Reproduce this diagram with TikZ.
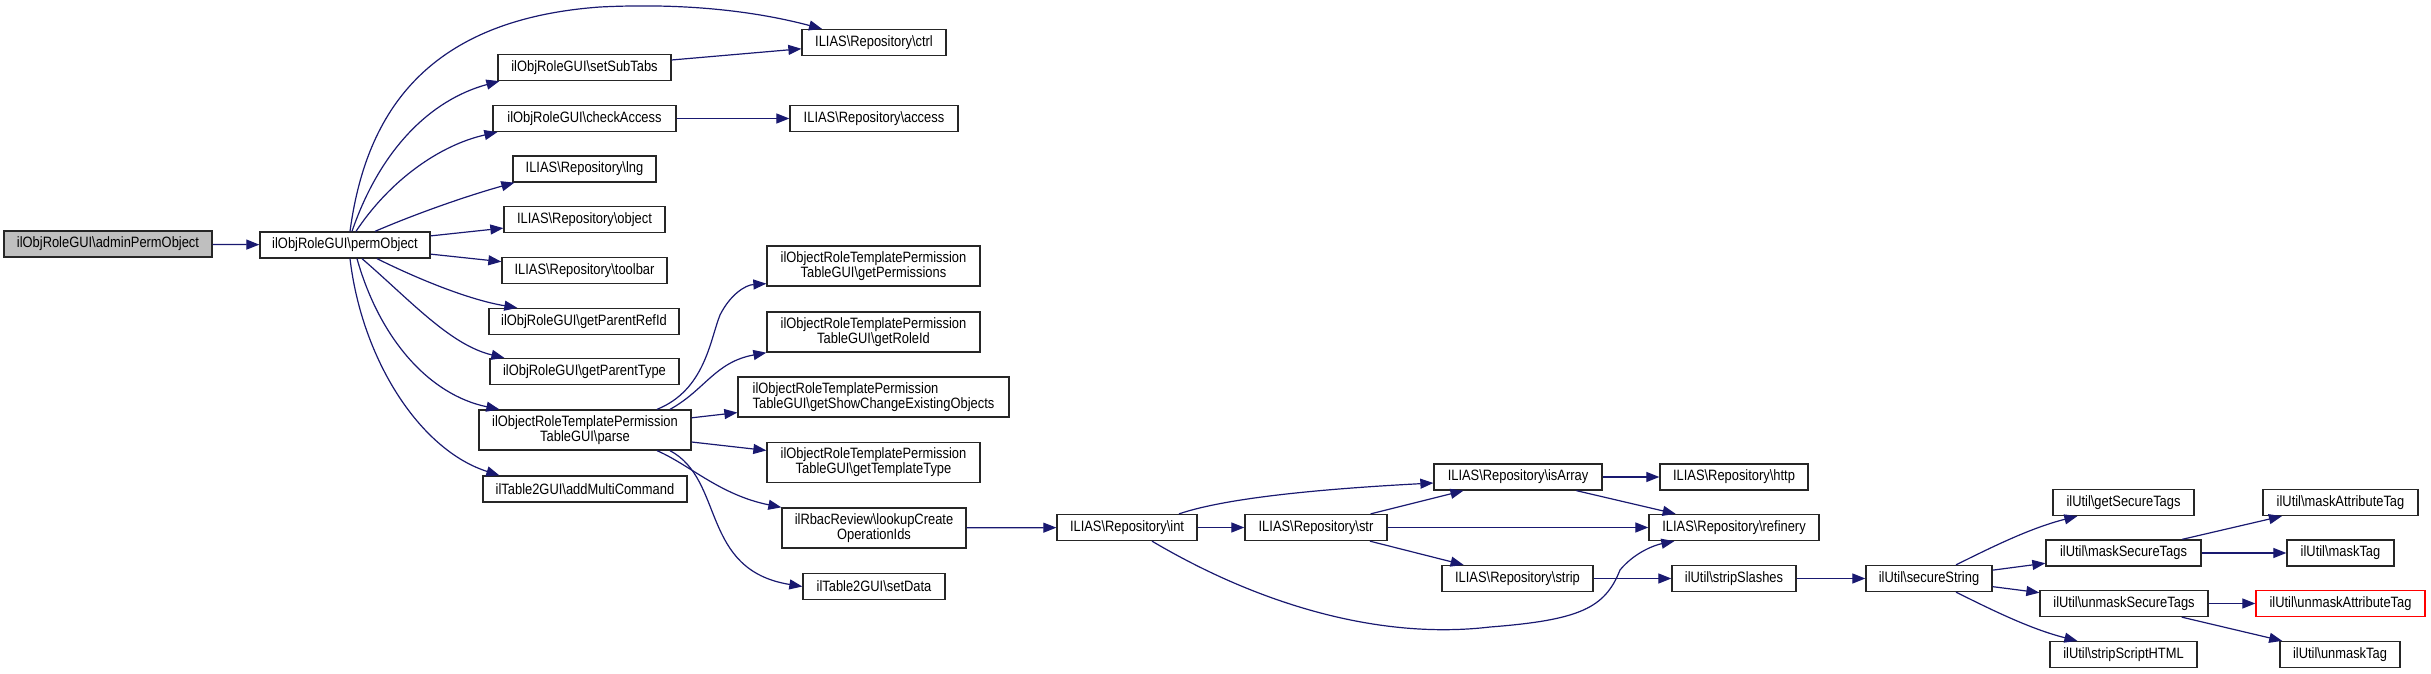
\documentclass[tikz,border=0pt]{standalone}
\usepackage{fontspec}
\setmainfont{Liberation Sans}[FakeStretch=0.86]
\usetikzlibrary{arrows.meta}
\definecolor{edgeblue}{HTML}{191970}
\definecolor{boxgrey}{HTML}{BFBFBF}
\newcommand{\bsl}{\textbackslash}

\begin{document}
\begin{tikzpicture}[x=1pt,y=-1pt,
    fnbox/.style={draw=black!85,fill=white,line width=1.3pt,minimum height=26pt,inner sep=0pt,font=\fontsize{15}{15}\selectfont},
    fnboxtwo/.style={fnbox,minimum height=40pt,align=center},
    call/.style={draw=edgeblue,line width=1.2pt,-{Triangle[length=13pt,width=10pt]}}]
    \useasboundingbox (0,0) rectangle (2431,673);

    % first two columns
    \node[fnbox,fill=boxgrey,minimum width=208pt] (adm) at (108,244) {ilObjRoleGUI\bsl adminPermObject};
    \node[fnbox,minimum width=170pt] (perm) at (345,245) {ilObjRoleGUI\bsl permObject};

    \node[fnbox,minimum width=173pt] (setSubTabs) at (584.5,67.5) {ilObjRoleGUI\bsl setSubTabs};
    \node[fnbox,minimum width=183pt] (checkAccess) at (584.5,118.5) {ilObjRoleGUI\bsl checkAccess};
    \node[fnbox,minimum width=143pt] (lng) at (584.5,169) {ILIAS\bsl Repository\bsl lng};
    \node[fnbox,minimum width=161pt] (object) at (584.5,219.5) {ILIAS\bsl Repository\bsl object};
    \node[fnbox,minimum width=165pt] (toolbar) at (584.5,270.5) {ILIAS\bsl Repository\bsl toolbar};
    \node[fnbox,minimum width=190pt] (parentRef) at (584,321.5) {ilObjRoleGUI\bsl getParentRefId};
    \node[fnbox,minimum width=189pt] (parentType) at (584.5,371.5) {ilObjRoleGUI\bsl getParentType};
    \node[fnboxtwo,minimum width=212pt] (parse) at (585,430) {ilObjectRoleTemplatePermission\\TableGUI\bsl parse};
    \node[fnbox,minimum width=204pt] (multiCmd) at (585,489) {ilTable2GUI\bsl addMultiCommand};

    % third column
    \node[fnbox,minimum width=144pt] (ctrl) at (874,42.5) {ILIAS\bsl Repository\bsl ctrl};
    \node[fnbox,minimum width=168pt] (access) at (874,118.5) {ILIAS\bsl Repository\bsl access};
    \node[fnboxtwo,minimum width=213pt] (getPerms) at (873.5,266) {ilObjectRoleTemplatePermission\\TableGUI\bsl getPermissions};
    \node[fnboxtwo,minimum width=213pt] (getRole) at (873.5,332) {ilObjectRoleTemplatePermission\\TableGUI\bsl getRoleId};
    \node[fnboxtwo,align=left,minimum width=271pt] (showChange) at (873.5,397) {ilObjectRoleTemplatePermission\\TableGUI\bsl getShowChangeExistingObjects};
    \node[fnboxtwo,minimum width=213pt] (tplType) at (873.5,462.5) {ilObjectRoleTemplatePermission\\TableGUI\bsl getTemplateType};
    \node[fnboxtwo,minimum width=184pt] (lookup) at (874,528) {ilRbacReview\bsl lookupCreate\\OperationIds};
    \node[fnbox,minimum width=142pt] (setData) at (874,586.5) {ilTable2GUI\bsl setData};

    % repository helpers
    \node[fnbox,minimum width=140pt] (int) at (1127,527.5) {ILIAS\bsl Repository\bsl int};
    \node[fnbox,minimum width=142pt] (str) at (1316,527.5) {ILIAS\bsl Repository\bsl str};
    \node[fnbox,minimum width=168pt] (isArray) at (1518,477) {ILIAS\bsl Repository\bsl isArray};
    \node[fnbox,minimum width=151pt] (strip) at (1517.5,578.5) {ILIAS\bsl Repository\bsl strip};
    \node[fnbox,minimum width=148pt] (http) at (1734,477) {ILIAS\bsl Repository\bsl http};
    \node[fnbox,minimum width=170pt] (refinery) at (1734,527.5) {ILIAS\bsl Repository\bsl refinery};
    \node[fnbox,minimum width=124pt] (stripSlashes) at (1734,578.5) {ilUtil\bsl stripSlashes};

    % ilUtil
    \node[fnbox,minimum width=126pt] (secure) at (1929,578.5) {ilUtil\bsl secureString};
    \node[fnbox,minimum width=141pt] (getTags) at (2123.5,502.5) {ilUtil\bsl getSecureTags};
    \node[fnbox,minimum width=155pt] (maskTags) at (2123.5,553) {ilUtil\bsl maskSecureTags};
    \node[fnbox,minimum width=168pt] (unmaskTags) at (2124,603.5) {ilUtil\bsl unmaskSecureTags};
    \node[fnbox,minimum width=147pt] (scriptHTML) at (2123.5,654.5) {ilUtil\bsl stripScriptHTML};
    \node[fnbox,minimum width=155pt] (maskAttr) at (2340.5,502.5) {ilUtil\bsl maskAttributeTag};
    \node[fnbox,minimum width=107pt] (maskTag) at (2340.5,553) {ilUtil\bsl maskTag};
    \node[fnbox,draw=red,minimum width=169pt] (unmaskAttr) at (2340.5,603.5) {ilUtil\bsl unmaskAttributeTag};
    \node[fnbox,minimum width=120pt] (unmaskTag) at (2340,654.5) {ilUtil\bsl unmaskTag};

    % straight calls
    \foreach \a/\b in {adm/perm,perm/object,perm/toolbar,setSubTabs/ctrl,checkAccess/access,
        parse/showChange,parse/tplType,lookup/int,int/str,str/isArray,str/refinery,str/strip,
        isArray/http,isArray/refinery,strip/stripSlashes,stripSlashes/secure,secure/maskTags,
        secure/unmaskTags,maskTags/maskAttr,maskTags/maskTag,unmaskTags/unmaskAttr,unmaskTags/unmaskTag}
        \draw[call] (\a) -- (\b);

    % curved calls
    \draw[call] ([xshift=5pt]perm.north) .. controls (365,120) and (420,20) .. (600,7) .. controls (700,2) and (770,15) .. ([xshift=-52pt]ctrl.north);
    \draw[call] ([xshift=7pt]perm.north) .. controls (380,150) and (430,100) .. ([xshift=2pt]setSubTabs.south west);
    \draw[call] ([xshift=11pt]perm.north) .. controls (390,180) and (440,145) .. ([xshift=5pt]checkAccess.south west);
    \draw[call] ([xshift=30pt]perm.north) .. controls (420,212) and (470,195) .. ([xshift=2pt]lng.south west);
    \draw[call] ([xshift=32pt]perm.south) .. controls (420,280) and (470,300) .. ([xshift=29pt]parentRef.north west);
    \draw[call] ([xshift=17pt]perm.south) .. controls (410,300) and (450,345) .. ([xshift=15pt]parentType.north west);
    \draw[call] ([xshift=12pt]perm.south) .. controls (380,340) and (430,395) .. ([xshift=21pt]parse.north west);
    \draw[call] ([xshift=5pt]perm.south) .. controls (362,360) and (420,450) .. ([xshift=17pt]multiCmd.north west);

    \draw[call] ([xshift=72pt]parse.north) .. controls (705,390) and (710,340) .. (720,315) .. controls (730,295) and (745,285) .. ([yshift=3pt]getPerms.south west);
    \draw[call] ([xshift=85pt]parse.north) .. controls (705,390) and (715,362) .. (getRole.south west);
    \draw[call] ([xshift=72pt]parse.south) .. controls (690,465) and (720,495) .. (lookup.north west);
    \draw[call] ([xshift=85pt]parse.south) .. controls (725,480) and (700,570) .. (setData.west);

    \draw[call] ([xshift=52pt]int.north) .. controls (1220,500) and (1300,490) .. ([yshift=-6pt]isArray.west);
    \draw[call] ([xshift=25pt]int.south) .. controls (1260,605) and (1380,640) .. (1490,627) .. controls (1580,620) and (1605,608) .. (1620,570) .. controls (1635,552) and (1655,545) .. ([xshift=26pt]refinery.south west);

    \draw[call] ([xshift=27pt]secure.north) .. controls (1990,548) and (2030,528) .. ([xshift=25pt]getTags.south west);
    \draw[call] ([xshift=27pt]secure.south) .. controls (1990,609) and (2030,629) .. ([xshift=28pt]scriptHTML.north west);
\end{tikzpicture}
\end{document}
